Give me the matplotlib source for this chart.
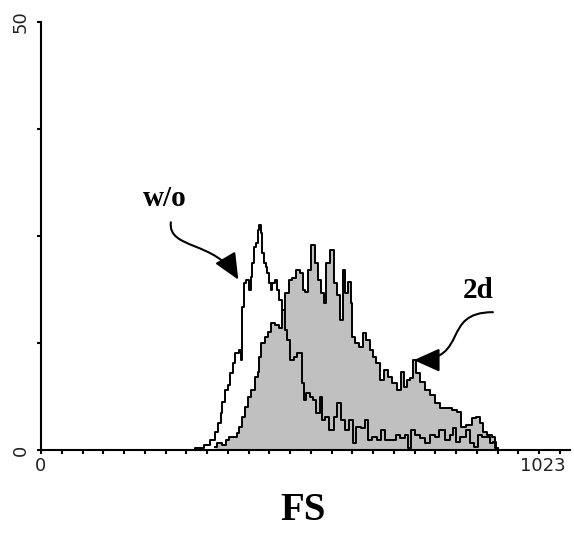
import matplotlib
matplotlib.use("Agg")
import matplotlib.pyplot as plt
import matplotlib.transforms as mtransforms
from matplotlib.path import Path
from matplotlib.patches import FancyArrowPatch
import numpy as np

# FS histogram, channel (0-1023) vs count
wo_ch = [294, 313, 329, 339, 347, 352, 356, 358, 367, 369, 377, 379, 387, 393,
         396, 398, 402, 408, 412, 416, 418, 422, 426, 428, 432, 435, 437, 441,
         445, 447, 451, 455, 457, 465, 467, 472, 477, 485, 487, 495, 501, 507,
         511, 517, 520, 526, 534, 540, 546, 554, 556, 563, 574, 580, 588, 596,
         603, 613, 619, 625, 635, 642, 648, 658, 668, 674, 684, 694, 704, 712,
         722, 727, 733, 743, 753, 763, 772, 780, 791, 801, 810, 816, 822, 832,
         842, 849, 859, 865, 875, 881, 889, 895, 899, 905]
wo_cnt = [0, 0.2, 0.6, 1.2, 2.1, 3.2, 4.3, 5.6, 7.0, 7.6, 9.0, 10.2, 11.3, 11.7,
          10.5, 16.7, 19.5, 19.9, 18.7, 20.2, 21.8, 23.7, 24.2, 25.7, 26.3, 25.4,
          23.0, 21.8, 21.4, 20.7, 19.5, 18.7, 19.5, 19.9, 18.7, 17.5, 16.4, 14.0,
          12.9, 10.5, 10.9, 11.3, 11.3, 7.8, 5.8, 6.7, 6.2, 5.8, 4.3, 6.2, 3.5,
          3.9, 2.3, 3.9, 5.5, 3.5, 2.3, 3.5, 0.8, 2.7, 2.6, 3.5, 1.2, 1.5, 1.2,
          2.3, 1.2, 1.2, 1.8, 1.4, 1.8, 0.2, 2.3, 1.8, 1.4, 0.8, 1.8, 1.5, 2.3,
          1.2, 1.8, 2.6, 0.9, 1.5, 2.3, 0.8, 0.4, 1.8, 1.5, 1.5, 0.8, 0.9, 0.2, 0]

d2_ch = [343, 352, 362, 369, 373, 383, 389, 393, 398, 406, 412, 418, 426, 428,
         432, 437, 445, 451, 457, 465, 472, 477, 485, 491, 497, 507, 515, 517,
         524, 530, 536, 544, 550, 556, 559, 565, 574, 580, 586, 594, 596, 603,
         609, 613, 615, 623, 629, 639, 644, 652, 658, 664, 672, 682, 688, 698,
         704, 714, 718, 724, 731, 735, 743, 753, 763, 772, 783, 791, 803, 816,
         826, 830, 846, 855, 861, 869, 875, 885, 893, 899, 905]
d2_cnt = [0.4, 0.8, 0.6, 1.2, 1.5, 1.5, 2.0, 2.7, 3.9, 5.0, 6.2, 7.0, 8.5, 9.1,
          10.9, 12.5, 13.2, 13.8, 14.8, 14.6, 14.3, 16.4, 18.3, 19.9, 20.1, 21.0,
          20.7, 18.7, 18.5, 21.0, 23.9, 21.8, 19.9, 18.3, 17.2, 21.8, 23.4, 19.5,
          18.1, 15.2, 21.0, 18.3, 19.6, 17.2, 13.2, 12.5, 12.0, 13.7, 12.9, 11.7,
          10.9, 10.2, 8.2, 9.3, 8.5, 7.8, 7.0, 9.1, 7.4, 8.2, 8.4, 10.5, 9.0,
          7.9, 7.0, 6.4, 5.5, 4.9, 4.9, 4.7, 4.4, 2.7, 2.9, 3.7, 3.9, 3.2, 2.1,
          1.8, 1.5, 0.2, 0]

labels = ["w/o", "2d"]
label_pos = [(244, 29.4), (861, 18.6)]
arrow_paths = [[(256, 26.6), (250, 23.4), (343, 24.5), (389, 19.9)],
               [(891, 16.1), (787, 16.1), (846, 10.5), (735, 10.5)]]

fig = plt.figure(figsize=(5.74, 5.41), dpi=100)
ax = fig.add_axes([41/574, 91/541, 529/574, 428/541])

ax.fill_between(d2_ch, d2_cnt, step="mid", color="#c0c0c0", lw=0)
ax.step(d2_ch, d2_cnt, where="mid", color="black", lw=1.4)
ax.step(wo_ch, wo_cnt, where="mid", color="black", lw=1.4)

ax.set_xlim(0, 1043)
ax.set_ylim(0, 50)
ax.spines["top"].set_visible(False)
ax.spines["right"].set_visible(False)
ax.spines["left"].set_linewidth(1.5)
ax.spines["bottom"].set_linewidth(1.5)

ax.set_xticks([0, 1023])
ax.set_xticks(np.linspace(0, 1023, 26), minor=True)
ax.set_yticks([0, 50])
ax.set_yticks([12.5, 25, 37.5], minor=True)
ax.tick_params(axis="x", which="both", direction="out", length=3, width=1.5,
               labelsize=13, pad=2, labelcolor="#222222")
ax.tick_params(axis="y", which="both", direction="out", length=3, width=1.5,
               labelsize=13, pad=5, labelcolor="#222222")
for t in ax.get_yticklabels():
    t.set_rotation(90)
    t.set_va("center")
last = ax.get_xticklabels()[1]
last.set_ha("right")
last.set_transform(last.get_transform() +
                   mtransforms.ScaledTranslation(6/100, 0, fig.dpi_scale_trans))

for lab, pos, pts in zip(labels, label_pos, arrow_paths):
    ax.text(pos[0], pos[1], lab, family="Liberation Serif", weight="bold",
            fontsize=21, ha="center", va="center")
    path = Path(pts, [Path.MOVETO, Path.CURVE4, Path.CURVE4, Path.CURVE4])
    ax.add_patch(FancyArrowPatch(path=path, arrowstyle="-|>,head_length=1,head_width=0.45",
                                 mutation_scale=16, color="black", lw=1.5))

fig.text(303/574, 31/541, "FS", family="Liberation Serif", weight="bold",
         fontsize=28, ha="center", va="center")

fig.savefig("out.png", dpi=100)
